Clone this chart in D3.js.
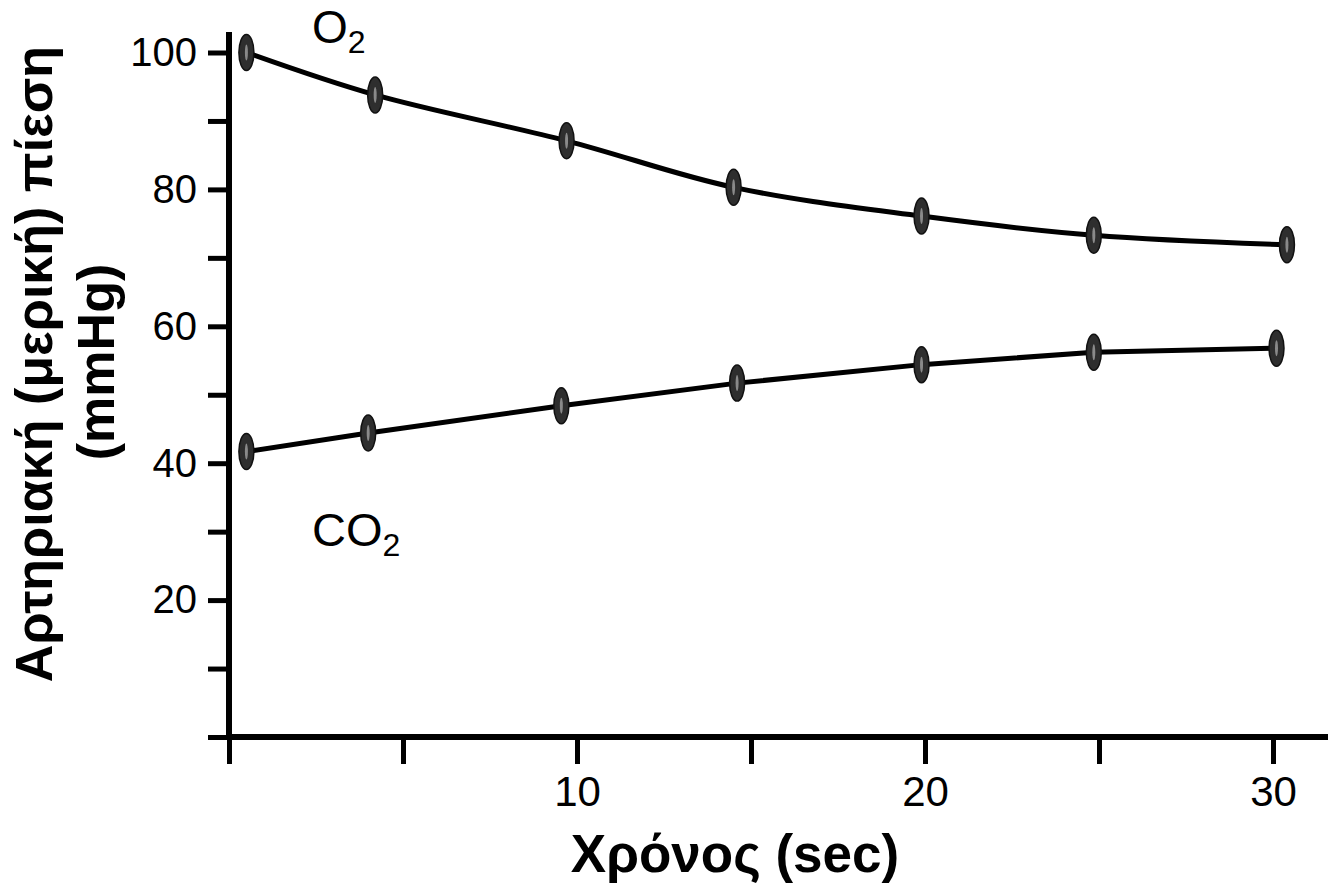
<!DOCTYPE html>
<html>
<head>
<meta charset="utf-8">
<script src="https://cdn.jsdelivr.net/npm/d3@7"></script>
<style>
  body { margin: 0; background: #fff; }
  text { font-family: "Liberation Sans", Arial, sans-serif; fill: #000; }
</style>
</head>
<body>
<div id="chart"></div>
<script>
// time (sec) and arterial partial pressure (mmHg)
const timeO2 = [0.5, 4.2, 9.7, 14.5, 19.9, 24.85, 30.4];
const valuesO2 = [100, 93.8, 87.1, 80.3, 76.1, 73.3, 71.9];
const timeCO2 = [0.5, 4.0, 9.55, 14.6, 19.9, 24.85, 30.1];
const valuesCO2 = [41.7, 44.4, 48.4, 51.7, 54.4, 56.2, 56.8];

const xTicks = [0, 5, 10, 15, 20, 25, 30];
const xTickLabels = ["", "", "10", "", "20", "", "30"];
const yTicks = [0, 10, 20, 30, 40, 50, 60, 70, 80, 90, 100];
const yTickLabels = ["", "", "20", "", "40", "", "60", "", "80", "", "100"];

const width = 1328, height = 886;

const svg = d3.select("#chart")
    .append("svg")
    .attr("width", width)
    .attr("height", height);

// scales
const x = d3.scaleLinear().domain([0, 31.58]).range([229, 1328]);
const y = d3.scaleLinear().domain([0, 100]).range([737, 52.5]);

// Y axis
const yAxis = svg.append("g")
    .attr("transform", `translate(${x(0)},0)`)
    .call(d3.axisLeft(y)
        .tickValues(yTicks)
        .tickSize(21)
        .tickSizeOuter(0)
        .tickPadding(11)
        .tickFormat((d, i) => yTickLabels[i]));
yAxis.select(".domain").remove();
yAxis.selectAll(".tick line").attr("stroke", "#000").attr("stroke-width", 5);
yAxis.selectAll(".tick text")
    .attr("font-size", 40)
    .attr("font-family", "Liberation Sans, Arial, sans-serif");

// X axis
const xAxis = svg.append("g")
    .attr("transform", `translate(0,${y(0)})`)
    .call(d3.axisBottom(x)
        .tickValues(xTicks)
        .tickSize(27)
        .tickSizeOuter(0)
        .tickPadding(12)
        .tickFormat((d, i) => xTickLabels[i]));
xAxis.select(".domain").remove();
xAxis.selectAll(".tick line").attr("stroke", "#000").attr("stroke-width", 5);
xAxis.selectAll(".tick text")
    .attr("font-size", 42)
    .attr("font-family", "Liberation Sans, Arial, sans-serif");

// axis lines
svg.append("line")
    .attr("x1", x(0)).attr("x2", x(0))
    .attr("y1", 32).attr("y2", y(0) + 3)
    .attr("stroke", "#000").attr("stroke-width", 6);
svg.append("line")
    .attr("x1", x(0) - 3).attr("x2", width)
    .attr("y1", y(0)).attr("y2", y(0))
    .attr("stroke", "#000").attr("stroke-width", 6);

// series
const o2 = timeO2.map((t, i) => ({ t, v: valuesO2[i] }));
const co2 = timeCO2.map((t, i) => ({ t, v: valuesCO2[i] }));

svg.append("path")
    .datum(o2)
    .attr("fill", "none")
    .attr("stroke", "#000")
    .attr("stroke-width", 5)
    .attr("d", d3.line().x(d => x(d.t)).y(d => y(d.v)).curve(d3.curveCatmullRom.alpha(0.5)));

svg.append("path")
    .datum(co2)
    .attr("fill", "none")
    .attr("stroke", "#000")
    .attr("stroke-width", 5)
    .attr("d", d3.line().x(d => x(d.t)).y(d => y(d.v)));

function drawMarkers(data) {
    const g = svg.append("g");
    const m = g.selectAll("g")
        .data(data)
        .join("g")
        .attr("transform", d => `translate(${x(d.t)},${y(d.v)})`);
    m.append("ellipse")
        .attr("rx", 7.5).attr("ry", 18)
        .attr("fill", "#2e2e2e")
        .attr("stroke", "#111")
        .attr("stroke-width", 1.5);
    m.append("ellipse")
        .attr("rx", 1.5).attr("ry", 8)
        .attr("fill", "#8a8a8a");
}
drawMarkers(o2);
drawMarkers(co2);

// series labels
const o2Label = svg.append("text")
    .attr("x", 312).attr("y", 43)
    .attr("font-size", 46);
o2Label.append("tspan").text("O");
o2Label.append("tspan").attr("font-size", 32).attr("dy", 10).text("2");

const co2Label = svg.append("text")
    .attr("x", 312).attr("y", 546)
    .attr("font-size", 47);
co2Label.append("tspan").text("CO");
co2Label.append("tspan").attr("font-size", 32).attr("dy", 10).text("2");

// axis titles
svg.append("text")
    .attr("x", 735).attr("y", 872)
    .attr("text-anchor", "middle")
    .attr("font-size", 53)
    .attr("font-weight", "bold")
    .text("Χρόνος (sec)");

svg.append("text")
    .attr("transform", "translate(52,364) rotate(-90)")
    .attr("text-anchor", "middle")
    .attr("font-size", 52)
    .attr("font-weight", "bold")
    .text("Αρτηριακή (μερική) πίεση");

svg.append("text")
    .attr("transform", "translate(114,362) rotate(-90)")
    .attr("text-anchor", "middle")
    .attr("font-size", 52)
    .attr("font-weight", "bold")
    .text("(mmHg)");
</script>
</body>
</html>
